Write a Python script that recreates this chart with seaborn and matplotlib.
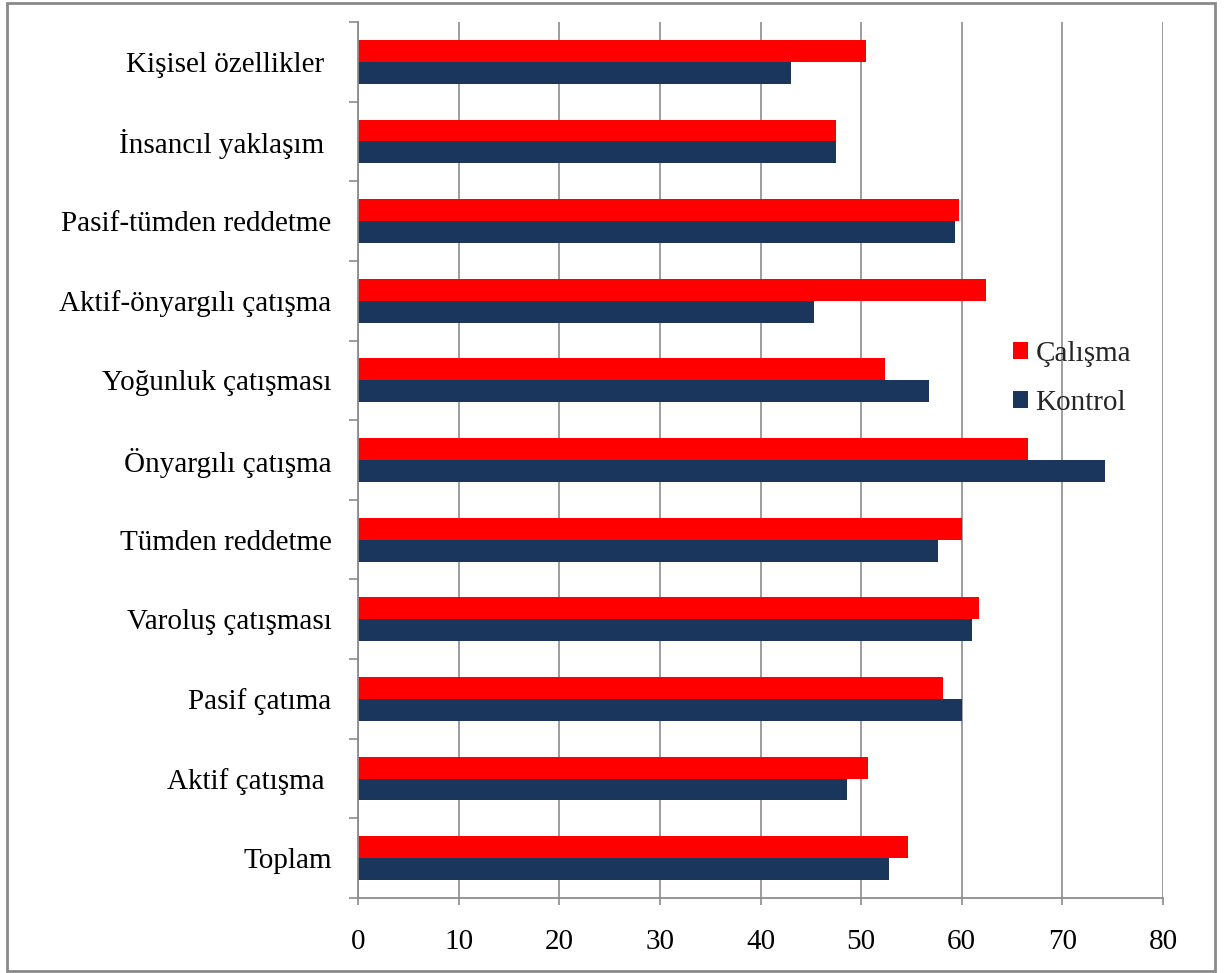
import matplotlib
matplotlib.use("Agg")
import matplotlib.pyplot as plt
import matplotlib.patches as mpatches
from matplotlib.ticker import FixedLocator
import seaborn as sns
import pandas as pd

categories = [
    "Kişisel özellikler ",
    "İnsancıl yaklaşım ",
    "Pasif-tümden reddetme",
    "Aktif-önyargılı çatışma",
    "Yoğunluk çatışması",
    "Önyargılı çatışma",
    "Tümden reddetme",
    "Varoluş çatışması",
    "Pasif çatıma",
    "Aktif çatışma ",
    "Toplam",
]
calisma = [50.5, 47.5, 59.7, 62.4, 52.4, 66.6, 60.0, 61.7, 58.1, 50.7, 54.7]
kontrol = [43.0, 47.5, 59.3, 45.3, 56.7, 74.2, 57.6, 61.0, 60.0, 48.6, 52.8]
series_names = ["Çalışma", "Kontrol"]
x_ticks = [0, 10, 20, 30, 40, 50, 60, 70, 80]

df = pd.DataFrame({
    "kategori": categories * 2,
    "deger": calisma + kontrol,
    "grup": [series_names[0]] * len(categories) + [series_names[1]] * len(categories),
})

sns.set_theme(style="white")
plt.rcParams["font.family"] = ["Liberation Serif", "DejaVu Serif"]

RED = "#FF0000"
NAVY = "#1B365D"
GRID = "#8C8C8C"

fig = plt.figure(figsize=(12.32, 9.73), dpi=100)
ax = fig.add_axes([358 / 1232, 1 - 898 / 973, (1163 - 358) / 1232, (898 - 22) / 973])

sns.barplot(
    data=df, y="kategori", x="deger", hue="grup", order=categories,
    hue_order=series_names, palette=[RED, NAVY], orient="h",
    width=0.55, gap=0, saturation=1, ax=ax, legend=True,
    linewidth=0, edgecolor="none",
)

ax.set_xlim(0, 80)
ax.set_ylim(len(categories) - 0.5, -0.5)
ax.set_xlabel("")
ax.set_ylabel("")
ax.set_axisbelow(True)
ax.xaxis.set_major_locator(FixedLocator(x_ticks))
ax.grid(axis="x", color=GRID, linewidth=1.2)
ax.grid(axis="y", visible=False)

for s in ["top", "right"]:
    ax.spines[s].set_visible(False)
for s in ["left", "bottom"]:
    ax.spines[s].set_color(GRID)
    ax.spines[s].set_linewidth(1.3)

ax.tick_params(axis="x", which="major", direction="out", length=5, width=1.2,
               color=GRID, labelsize=21, pad=17, bottom=True, labelcolor="black")
ax.tick_params(axis="y", which="major", length=0, labelsize=21, pad=19, labelcolor="black")
ax.yaxis.set_minor_locator(FixedLocator([i - 0.5 for i in range(len(categories) + 1)]))
ax.tick_params(axis="y", which="minor", direction="out", length=6.5, width=1.2,
               color=GRID, left=True)

handles = [mpatches.Patch(facecolor=RED, edgecolor="none"),
           mpatches.Patch(facecolor=NAVY, edgecolor="none")]
ax.legend(handles, series_names, loc="upper left",
          bbox_to_anchor=(1013 / 1232, 1 - 341 / 973), bbox_transform=fig.transFigure,
          frameon=False, fontsize=21, handlelength=0.52, handleheight=0.52,
          handletextpad=0.25, labelspacing=0.78, borderpad=0, borderaxespad=0)

border = mpatches.Rectangle((7 / 1232, 2 / 973), (1215 - 7) / 1232, (971 - 3) / 973,
                            transform=fig.transFigure, fill=False,
                            edgecolor="#8A8A8A", linewidth=2.0, zorder=10)
fig.patches.append(border)

fig.savefig("out.png", dpi=100, facecolor="white")
